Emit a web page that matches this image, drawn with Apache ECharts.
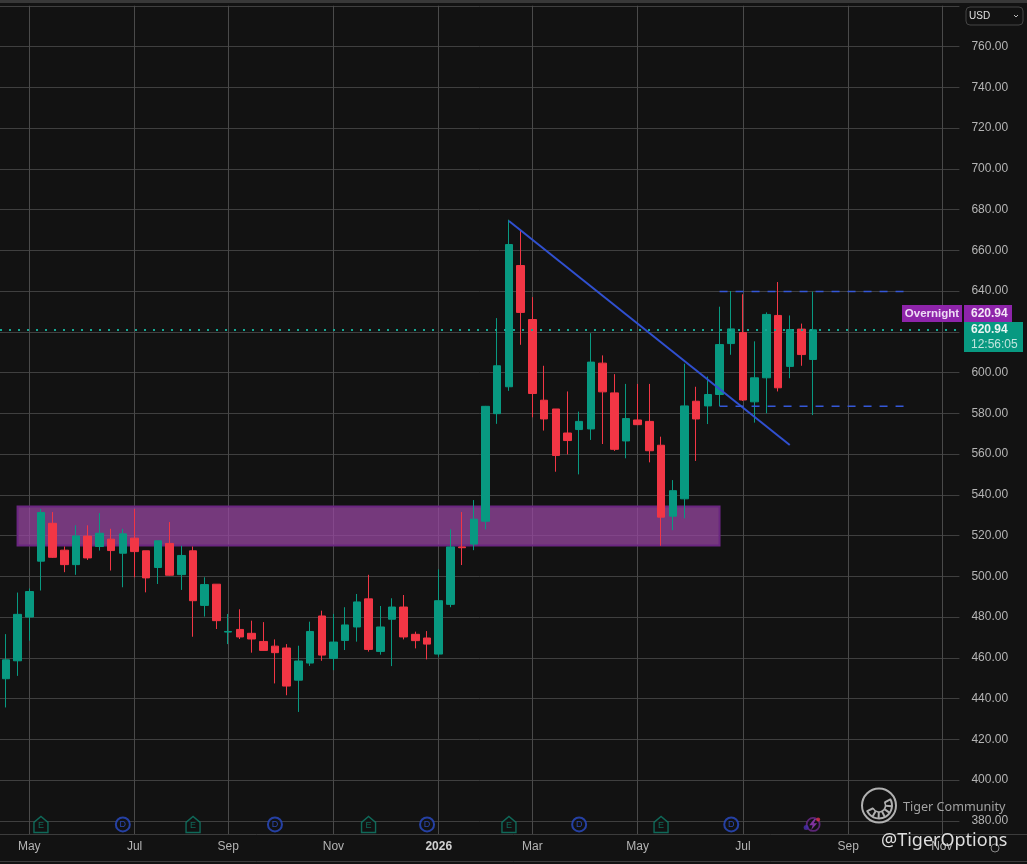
<!DOCTYPE html>
<html><head><meta charset="utf-8">
<style>html,body{margin:0;padding:0;background:#121212;overflow:hidden}#c{width:1027px;height:864px}</style>
<script src="https://cdn.jsdelivr.net/npm/echarts@6/dist/echarts.min.js"></script>
</head><body><div id="c"></div>
<script>
const categories = Array.from({length:82},(_,k)=>'w'+k);
const monthTicks = {2:'May',11:'Jul',19:'Sep',28:'Nov',37:'2026',45:'Mar',54:'May',63:'Jul',72:'Sep',80:'Nov'};
const opens = [449.7,458.5,480,507.4,526,512.8,505.7,519.7,514.6,518.2,511.3,518.7,512.5,504.3,516.1,500.8,512.5,485.7,496.1,472.6,473.9,472,468,465.7,464.8,449,457.4,480.5,459.7,468.5,475.1,488.9,463.1,478.9,484.9,471.5,469.7,461.8,486.2,514.4,515.8,527,579.8,593,652.5,626,586.4,582.1,570.3,572,572.3,604.6,590,566.4,576.7,576,564.3,529.5,538,585.9,583.6,589.2,614.2,619.6,585.6,597.4,628,603,621.3,606.4];
const closes = [459,481.3,492.5,531.3,509.3,505.7,519.8,509,521.1,512.6,520.8,512.1,499.2,517.4,500.5,510.2,488,495.9,478.2,472.9,470.2,469.2,463.6,462.5,446.1,458.4,472.9,461.3,467.7,476.1,487.4,464.1,475.1,484.9,470.2,468.4,466.7,488,514.4,514,528,583.4,603.3,662.8,629.5,589.7,577.2,559.3,566.6,576,605.1,590.5,562.3,577.4,574.4,561.6,529,542,583.6,577.2,589.2,613.7,621.4,586.5,597.4,628.5,592.5,621.1,608.8,620.94];
const lows = [435.6,451.1,468.4,493,509,502,500.7,508,512.6,502.8,494.6,499.5,492.1,496.2,500.3,493.3,470.3,480.2,474.1,466.7,469.2,462.5,463.6,447.4,441.6,433.4,456,458.5,453.9,463.8,467.9,463,461.5,455.9,469,464.6,459.2,460.5,484.8,505.5,512.8,523,574.8,591,613.6,578,571.5,551.3,559.8,550,566.9,564.9,561.5,557.9,574.4,555.9,515,522.6,528.4,556.6,574.7,583.5,608.7,586,575.4,580,590.7,597.2,603.3,579.1];
const highs = [471.6,492,494,533,531.5,514.6,525,525,531,523.3,523.3,533,512.5,517.4,526.6,515,514.6,499.5,496.1,481.5,483.8,478.2,477.5,469,466.7,465.9,477.7,483.1,481.5,484.8,491.3,500.7,485.4,489.2,490.8,472.8,473.1,503.4,523,531.5,537.4,583.6,626.7,675,670,637,603.3,582.1,590.7,580.8,619.3,608.4,599.2,594.4,594.4,594.4,568.5,547.2,604.3,593,598,632.3,640,638.4,615.3,629.5,644.4,628,624,639.7];
const lastPrice = 620.94;
const zoneBand = {from:1, to:61, top:534.2, bottom:515.1};
const trendLine = [[43,674.4],[67,564.4]];
const rangeHigh = {from:61, to:77, price:639.7};
const rangeLow = {from:61, to:77, price:583.4};
const earningsAt = [3,16,31,43,56];
const dividendAt = [10,23,36,49,62];
const splitAt = 69;

const GREEN='#089981', RED='#f23645', BG='#121212', TXT='#b4b4b4';
const isTick = i => monthTicks[i] !== undefined;
const candles = opens.map((o,i)=>[o,closes[i],lows[i],highs[i]]);
const chart = echarts.init(document.getElementById('c'),null,{renderer:'canvas'});
const bandH = 0.72;
const HOUSE='path://M0,6 L7,0 L14,6 L14,16 L0,16 Z';
const BOLT='path://M6,0 L1,8 L4.5,8 L3,14 L9,5.5 L5.5,5.5 L8,0 Z';
const fontF='"Liberation Sans",Arial,sans-serif';

chart.setOption({
  animation:false, backgroundColor:BG,
  grid:[{left:-1.6,top:5.75,width:961,height:815,containLabel:false},
        {left:-1.6,top:820.75,width:961,height:13.25,containLabel:false}],
  xAxis:[
   {type:'category',gridIndex:0,data:categories,boundaryGap:true,
    axisLine:{show:false},axisTick:{show:false},axisLabel:{show:false},
    splitLine:{show:true,alignWithLabel:true,interval:isTick,lineStyle:{color:'#4a4a4a',width:1}}},
   {type:'category',gridIndex:1,data:categories,boundaryGap:true,
    axisLine:{show:false},axisTick:{show:false},
    axisLabel:{interval:isTick,margin:7,color:TXT,fontSize:12,fontFamily:fontF,hideOverlap:false,
      formatter:(v,i)=>monthTicks[i]==='2026'?'{b|2026}':(monthTicks[i]||''),
      rich:{b:{fontWeight:'bold',fontSize:12,color:'#d0d0d0',fontFamily:fontF}}},
    splitLine:{show:true,alignWithLabel:true,interval:isTick,lineStyle:{color:'#4a4a4a',width:1}}}
  ],
  yAxis:[
   {type:'value',gridIndex:0,position:'right',min:380,max:780,interval:20,scale:true,
    axisLine:{show:false},axisTick:{show:false},
    axisLabel:{margin:12,color:TXT,fontSize:12,fontFamily:fontF,align:'left',
      formatter:v=>v>=780?'':v.toFixed(2)},
    splitLine:{show:true,lineStyle:{color:'#3f3f3f',width:1}}},
   {type:'value',gridIndex:1,min:0,max:1,show:false}
  ],
  series:[
   {type:'line',name:'zone',data:[],xAxisIndex:0,yAxisIndex:0,z:1,silent:true,
    markArea:{silent:true,z:1,itemStyle:{color:'rgba(155,72,165,0.72)',borderColor:'#6a2680',borderWidth:2},
      data:[[{xAxis:categories[zoneBand.from],yAxis:zoneBand.top},{xAxis:categories[zoneBand.to],yAxis:zoneBand.bottom}]]}},
   {type:'candlestick',name:'price',data:candles,xAxisIndex:0,yAxisIndex:0,barWidth:8,z:2,
    itemStyle:{color:GREEN,color0:RED,borderColor:GREEN,borderColor0:RED,borderWidth:1},
    markLine:{silent:true,symbol:'none',z:3,label:{show:false},
      lineStyle:{color:'#15a893',type:[2,7],width:2},data:[{yAxis:lastPrice}]}},
   {type:'line',name:'trend',xAxisIndex:0,yAxisIndex:0,z:5,symbol:'none',silent:true,
    data:trendLine.map(p=>[categories[p[0]],p[1]]),lineStyle:{color:'#3050d0',width:2}},
   {type:'line',name:'rangeHigh',xAxisIndex:0,yAxisIndex:0,z:5,symbol:'none',silent:true,
    data:[[categories[rangeHigh.from],rangeHigh.price],[categories[rangeHigh.to],rangeHigh.price]],
    lineStyle:{color:'#3558d8',width:1.5,type:[8,8]}},
   {type:'line',name:'rangeLow',xAxisIndex:0,yAxisIndex:0,z:5,symbol:'none',silent:true,
    data:[[categories[rangeLow.from],rangeLow.price],[categories[rangeLow.to],rangeLow.price]],
    lineStyle:{color:'#3558d8',width:1.5,type:[8,8]}},
   {type:'scatter',name:'earnings',xAxisIndex:1,yAxisIndex:1,clip:false,silent:true,z:6,symbol:HOUSE,symbolSize:[14,16],
    data:earningsAt.map(k=>[categories[k],bandH]),
    itemStyle:{color:BG,borderColor:'#0f7f6c',borderWidth:1.5},
    label:{show:true,position:'inside',formatter:'E',color:'#0f7f6c',fontSize:9,fontFamily:fontF,offset:[0,1]}},
   {type:'scatter',name:'dividends',xAxisIndex:1,yAxisIndex:1,clip:false,silent:true,z:6,symbol:'circle',symbolSize:14,
    data:dividendAt.map(k=>[categories[k],bandH]),
    itemStyle:{color:BG,borderColor:'#2a4cc8',borderWidth:2},
    label:{show:true,position:'inside',formatter:'D',color:'#3356d6',fontSize:9,fontFamily:fontF}},
   {type:'scatter',name:'splitRing',xAxisIndex:1,yAxisIndex:1,clip:false,silent:true,z:6,symbol:'circle',symbolSize:13,
    data:[[categories[splitAt],bandH]],itemStyle:{color:BG,borderColor:'#6f2a90',borderWidth:1.8}},
   {type:'scatter',name:'splitBolt',xAxisIndex:1,yAxisIndex:1,clip:false,silent:true,z:7,symbol:BOLT,symbolSize:[8,11],
    data:[[categories[splitAt],bandH]],itemStyle:{color:'#9c3cc0'}},
   {type:'scatter',name:'splitDotR',xAxisIndex:1,yAxisIndex:1,clip:false,silent:true,z:7,symbol:'circle',symbolSize:4,symbolOffset:[5,-5],
    data:[[categories[splitAt],bandH]],itemStyle:{color:'#d8324a'}},
   {type:'scatter',name:'splitDotL',xAxisIndex:1,yAxisIndex:1,clip:false,silent:true,z:7,symbol:'circle',symbolSize:5,symbolOffset:[-7,3],
    data:[[categories[splitAt],bandH]],itemStyle:{color:'#4a2fb0'}}
  ]
});

const py = Math.round(chart.convertToPixel({yAxisIndex:0},lastPrice));
const lineC='#3a3a3a';
function hline(y,x1,x2,c){return {type:'line',silent:true,z:1,shape:{x1,y1:y,x2,y2:y},style:{stroke:c||lineC,lineWidth:1}};}
const cx=879, cy=805.5, logo=[];
logo.push({type:'circle',shape:{cx,cy,r:17},style:{fill:'none',stroke:'#b0b0b0',lineWidth:2},z:30,silent:true});
logo.push({type:'arc',shape:{cx,cy,r:13,startAngle:-0.55,endAngle:2.75,clockwise:true},style:{fill:'none',stroke:'#b0b0b0',lineWidth:2},z:30,silent:true});
logo.push({type:'arc',shape:{cx,cy,r:6.5,startAngle:-0.55,endAngle:2.75,clockwise:true},style:{fill:'none',stroke:'#b0b0b0',lineWidth:1.6},z:30,silent:true});
[-0.5,0.05,0.6,1.1,1.6,2.1,2.7].forEach(a=>logo.push({type:'line',silent:true,z:30,
  shape:{x1:cx+6.5*Math.cos(a),y1:cy+6.5*Math.sin(a),x2:cx+13*Math.cos(a),y2:cy+13*Math.sin(a)},
  style:{stroke:'#b0b0b0',lineWidth:2}}));

chart.setOption({graphic:{elements:[
  {type:'rect',silent:true,z:1,shape:{x:0,y:0,width:1027,height:3},style:{fill:'#383838'}},
  hline(834.5,0,1027,'#3c3c3c'),
  hline(861.5,0,1027,'#3c3c3c'),
  // USD selector
  {type:'rect',silent:true,z:20,shape:{x:966,y:7,width:57,height:18,r:4},style:{fill:BG,stroke:'#444',lineWidth:1}},
  {type:'text',silent:true,z:21,x:969,y:16,style:{text:'USD',fill:'#e0e0e0',font:'10px '+fontF,verticalAlign:'middle'}},
  {type:'polyline',silent:true,z:21,shape:{points:[[1014,15],[1016,17],[1018,15]]},style:{fill:'none',stroke:'#bbb',lineWidth:1}},
  // price tags
  {type:'rect',silent:true,z:20,shape:{x:902,y:py-25,width:60,height:17},style:{fill:'#8e24aa'}},
  {type:'text',silent:true,z:21,x:932,y:py-16.5,style:{text:'Overnight',fill:'#eedcf5',font:'bold 11.5px '+fontF,align:'center',verticalAlign:'middle'}},
  {type:'rect',silent:true,z:20,shape:{x:964,y:py-25,width:48,height:17},style:{fill:'#8e24aa'}},
  {type:'text',silent:true,z:21,x:971,y:py-16.5,style:{text:lastPrice.toFixed(2),fill:'#f3e6f7',font:'bold 12px '+fontF,verticalAlign:'middle'}},
  {type:'rect',silent:true,z:20,shape:{x:964,y:py-8,width:59,height:30},style:{fill:'#089981'}},
  {type:'text',silent:true,z:21,x:971,y:py,style:{text:lastPrice.toFixed(2),fill:'#e8f5f2',font:'bold 12px '+fontF,verticalAlign:'middle'}},
  {type:'text',silent:true,z:21,x:971,y:py+14.5,style:{text:'12:56:05',fill:'#bfe5dd',font:'12px '+fontF,verticalAlign:'middle'}},
  // settings glyph
  {type:'circle',silent:true,z:21,shape:{cx:995,cy:848,r:4},style:{fill:'none',stroke:'#888',lineWidth:1}},
  // watermark
  ...logo,
  {type:'text',silent:true,z:30,x:903,y:807,style:{text:'Tiger Community',fill:'#a2a2a2',font:'12.6px "Noto Sans",sans-serif',verticalAlign:'middle'}},
  {type:'text',silent:true,z:30,x:881,y:841,style:{text:'@TigerOptions',fill:'#dedede',font:'18px "Noto Sans",sans-serif',verticalAlign:'middle'}}
]}});
</script></body></html>
